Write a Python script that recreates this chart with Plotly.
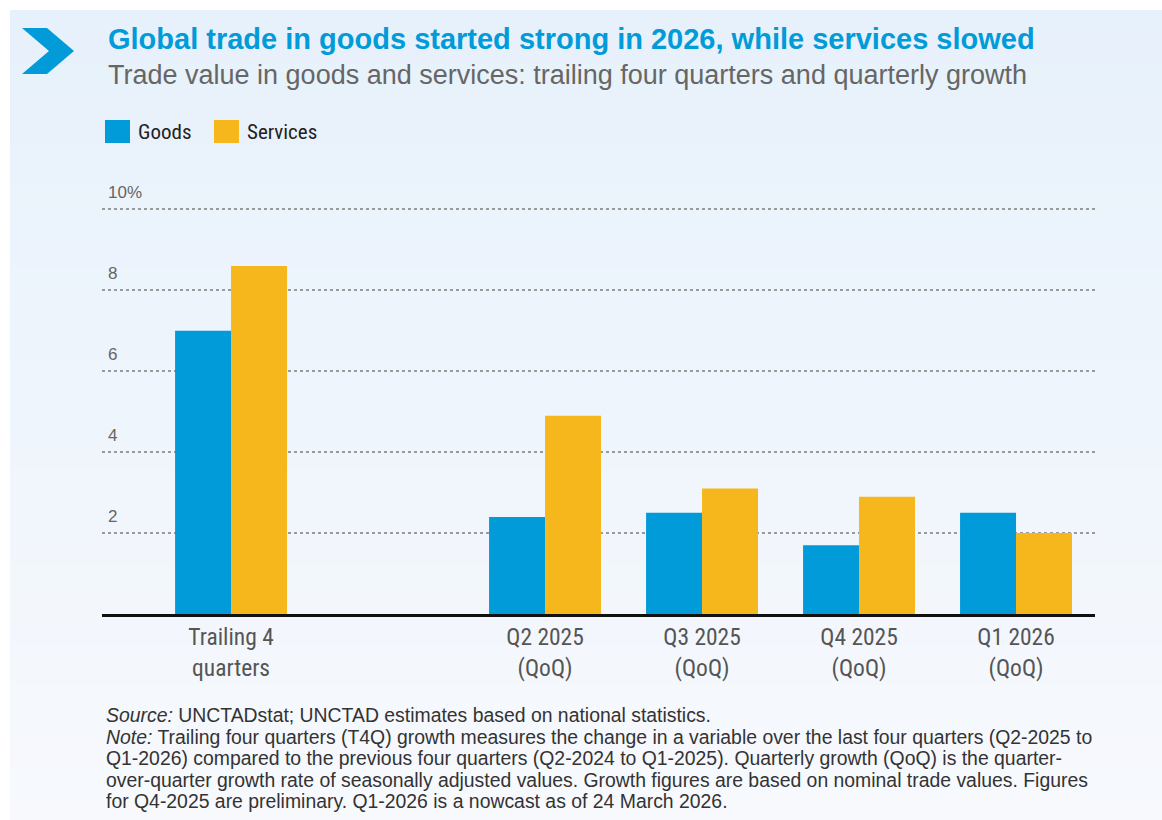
import plotly.graph_objects as go

# ---- data ----
categories = ["Trailing 4<br>quarters", "Q2 2025<br>(QoQ)", "Q3 2025<br>(QoQ)", "Q4 2025<br>(QoQ)", "Q1 2026<br>(QoQ)"]
cat_pos = [0, 2, 3, 4, 5]
goods = [7.0, 2.4, 2.5, 1.7, 2.5]
services = [8.6, 4.9, 3.1, 2.9, 2.0]
ytick_vals = [2, 4, 6, 8, 10]
ytick_text = ["2", "4", "6", "8", "10%"]
note_lines = [
    "<i>Source:</i> UNCTADstat; UNCTAD estimates based on national statistics.",
    "<i>Note:</i> Trailing four quarters (T4Q) growth measures the change in a variable over the last four quarters (Q2-2025 to",
    "Q1-2026) compared to the previous four quarters (Q2-2024 to Q1-2025). Quarterly growth (QoQ) is the quarter-",
    "over-quarter growth rate of seasonally adjusted values. Growth figures are based on nominal trade values. Figures",
    "for Q4-2025 are preliminary. Q1-2026 is a nowcast as of 24 March 2026.",
]

W, H = 1162, 820
YTOP = 10.8
L, R, B = 102, 67, 206
PH = round(YTOP * 40.48)
T = H - B - PH
PW = W - L - R

def px(x):
    return (x - L) / PW

def py(y):
    return (H - B - y) / PH

GOODS_C = "#009bd8"
SERV_C = "#f5b71c"
NARROW = "Liberation Sans Narrow, Roboto Condensed, Liberation Sans"
SANS = "Liberation Sans"

fig = go.Figure()
fig.add_bar(x=cat_pos, y=goods, name="Goods", marker_color=GOODS_C, marker_line_width=0)
fig.add_bar(x=cat_pos, y=services, name="Services", marker_color=SERV_C, marker_line_width=0)

shapes = []
# gradient panel background
n = 60
top_c = (231, 241, 251)
bot_c = (247, 249, 253)
y0p, y1p = 10, H
for i in range(n):
    a = y0p + (y1p - y0p) * i / n
    b = y0p + (y1p - y0p) * (i + 1) / n
    t = i / (n - 1)
    c = tuple(round(top_c[k] + (bot_c[k] - top_c[k]) * t) for k in range(3))
    shapes.append(dict(type="rect", xref="paper", yref="paper", x0=px(10), x1=px(W + 5),
                       y0=py(b + 0.5), y1=py(a), fillcolor="rgb(%d,%d,%d)" % c,
                       line_width=0, layer="below"))
# chevron
pts = [(22, 28), (47, 28), (74, 51), (47, 74), (22, 74), (49, 51)]
path = "M " + " L ".join("%f,%f" % (px(x), py(y)) for x, y in pts) + " Z"
shapes.append(dict(type="path", xref="paper", yref="paper", path=path,
                   fillcolor="#009bd8", line_width=0))
# legend swatches
for x0, col in [(105, GOODS_C), (214, SERV_C)]:
    shapes.append(dict(type="rect", xref="paper", yref="paper", x0=px(x0), x1=px(x0 + 25),
                       y0=py(143), y1=py(120), fillcolor=col, line_width=0))

annotations = [
    dict(text="<b>Global trade in goods started strong in 2026, while services slowed</b>",
         x=px(106), y=py(39), xref="paper", yref="paper", xanchor="left", yanchor="middle",
         showarrow=False, font=dict(family=SANS, size=29, color="#009bd8")),
    dict(text="Trade value in goods and services: trailing four quarters and quarterly growth",
         x=px(106), y=py(75), xref="paper", yref="paper", xanchor="left", yanchor="middle",
         showarrow=False, font=dict(family=SANS, size=27, color="#666666")),
    dict(text="Goods", x=px(136), y=py(132), xref="paper", yref="paper", xanchor="left",
         yanchor="middle", showarrow=False, font=dict(family=NARROW, size=21, color="#222222")),
    dict(text="Services", x=px(245), y=py(132), xref="paper", yref="paper", xanchor="left",
         yanchor="middle", showarrow=False, font=dict(family=NARROW, size=21, color="#222222")),
]
for v, s in zip(ytick_vals, ytick_text):
    annotations.append(dict(text=s, x=px(106), y=v, xref="paper", yref="y", xanchor="left",
                            yanchor="middle", yshift=17, showarrow=False,
                            font=dict(family=SANS, size=17, color="#666666")))
for i, line in enumerate(note_lines):
    annotations.append(dict(text=line, x=px(104), y=py(715 + i * 21.5), xref="paper", yref="paper",
                            xanchor="left", yanchor="middle", align="left", showarrow=False,
                            font=dict(family=SANS, size=19.4, color="#333333")))

fig.update_layout(
    width=W, height=H,
    margin=dict(l=L, r=R, t=T, b=B),
    paper_bgcolor="white", plot_bgcolor="rgba(0,0,0,0)",
    barmode="group", bargap=0.287, bargroupgap=0,
    showlegend=False,
    shapes=shapes, annotations=annotations,
    font=dict(family=SANS),
)
fig.update_xaxes(range=[-0.822, 5.503], tickvals=cat_pos, ticktext=categories,
                 showgrid=False, showline=True, linecolor="#111111", linewidth=2.5,
                 ticks="", zeroline=False,
                 tickfont=dict(family=NARROW, size=23.5, color="#555555"))
fig.update_yaxes(range=[0, YTOP], tickvals=ytick_vals, showticklabels=False,
                 showgrid=True, gridcolor="#9a9a9a", griddash="dot", gridwidth=1.5,
                 zeroline=False, showline=False, ticks="")

fig.write_html("out.html")
